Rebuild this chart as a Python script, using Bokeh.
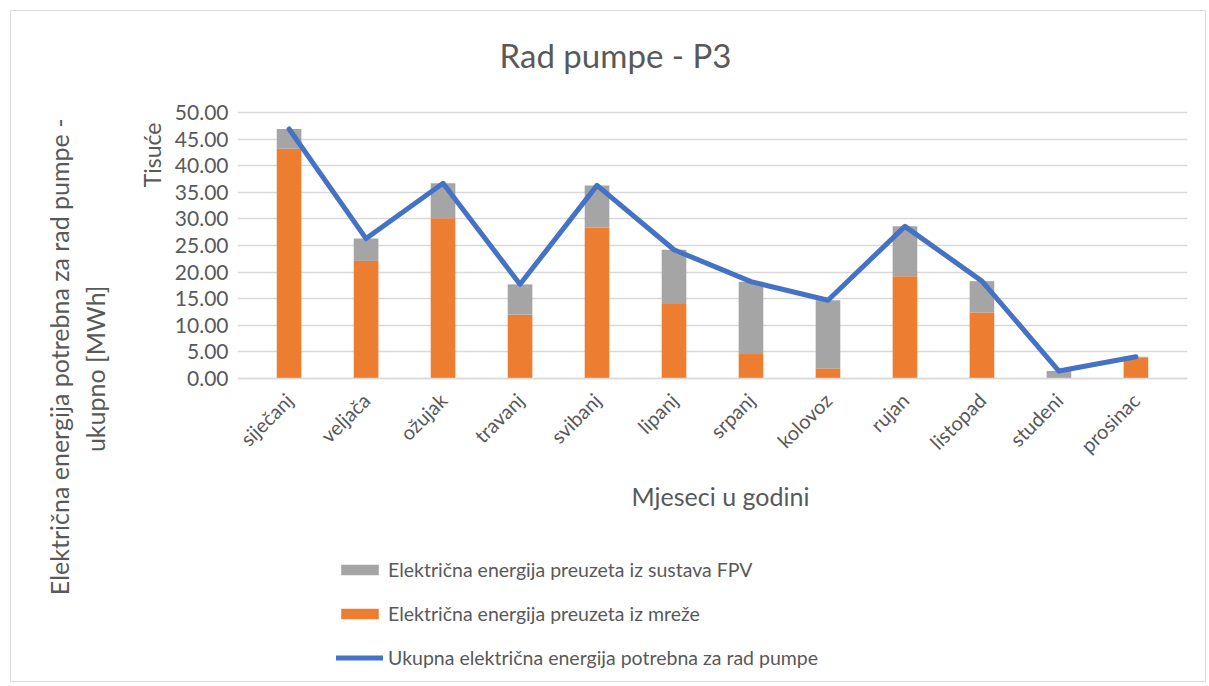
import math
from bokeh.plotting import figure
from bokeh.models import (FactorRange, Range1d, FixedTicker, NumeralTickFormatter,
                          Label, Legend, LegendItem, Title)
from bokeh.embed import file_html
from bokeh.resources import INLINE

months = ["siječanj", "veljača", "ožujak", "travanj", "svibanj", "lipanj",
          "srpanj", "kolovoz", "rujan", "listopad", "studeni", "prosinac"]
grid_energy = [43.2, 22.1, 30.1, 12.0, 28.4, 14.0, 4.6, 1.9, 19.2, 12.4, 0.0, 3.9]
fpv_energy = [3.7, 4.2, 6.6, 5.7, 7.9, 10.2, 13.6, 12.8, 9.4, 5.9, 1.4, 0.2]
total_energy = [46.9, 26.3, 36.7, 17.7, 36.3, 24.2, 18.2, 14.7, 28.6, 18.3, 1.4, 4.1]
y_ticks = [0, 5, 10, 15, 20, 25, 30, 35, 40, 45, 50]

FONT = "Lato"
TXT = "#595959"
ORANGE = "#ED7D31"
GREY = "#A5A5A5"
BLUE = "#4472C4"

# layout (pixels)
W, H = 1196, 672
LEFT, RIGHT = 226, 20
PAD = 0.17                        # category padding on each side
Y0_PX, Y50_PX = 367, 101          # canvas rows of value 0 and 50
PPU = (Y0_PX - Y50_PX) / 50.0
y_end = Y0_PX / PPU
y_start = -(H - Y0_PX) / PPU

p = figure(x_range=FactorRange(*months, range_padding=PAD, range_padding_units="absolute"),
           y_range=Range1d(y_start, y_end),
           width=W, height=H, output_backend="svg", toolbar_location=None,
           title=None, min_border_left=LEFT, min_border_right=RIGHT,
           min_border_top=0, min_border_bottom=0)
p.styles = {"border": "1px solid #d9d9d9", "margin": "10px 0 0 10px"}
p.outline_line_color = None
p.background_fill_color = "white"
p.border_fill_color = "white"

src = dict(month=months, grid=grid_energy, fpv=fpv_energy, total=total_energy)
bars = p.vbar_stack(["grid", "fpv"], x="month", width=0.32, color=[ORANGE, GREY],
                    line_color=None, source=src)
ln = p.line(x="month", y="total", source=src, line_color=BLUE, line_width=5,
            line_join="round", line_cap="round")

# y axis
p.yaxis.ticker = FixedTicker(ticks=y_ticks)
p.yaxis.formatter = NumeralTickFormatter(format="0.00")
p.yaxis.axis_line_color = None
p.yaxis.major_tick_line_color = None
p.yaxis.minor_tick_line_color = None
p.yaxis.major_tick_out = 0
p.yaxis.major_tick_in = 0
p.yaxis.major_label_standoff = 9
p.yaxis.major_label_text_font = FONT
p.yaxis.major_label_text_font_size = "21px"
p.yaxis.major_label_text_color = TXT

# x axis fixed at y = 0
p.xaxis.fixed_location = 0
p.xaxis.axis_line_color = "#d9d9d9"
p.xaxis.axis_line_width = 1.5
p.xaxis.major_tick_line_color = None
p.xaxis.minor_tick_line_color = None
p.xaxis.major_tick_out = 0
p.xaxis.major_tick_in = 0
p.xaxis.major_label_orientation = math.pi / 4
p.xaxis.major_label_standoff = 18
p.xaxis.major_label_text_font = FONT
p.xaxis.major_label_text_font_size = "20px"
p.xaxis.major_label_text_color = TXT

p.xgrid.grid_line_color = None
p.ygrid.ticker = FixedTicker(ticks=y_ticks)
p.ygrid.grid_line_color = "#d9d9d9"
p.ygrid.grid_line_width = 1.5

# vertical texts on the left (stacked outward from the value axis)
def side_title(text, offset, standoff, size):
    p.add_layout(Title(text=text, align="right", offset=offset, vertical_align="middle",
                       standoff=standoff, text_font=FONT, text_font_size=size,
                       text_font_style="normal", text_color=TXT), "left")

side_title("Tisuće", 111, 9, "23px")
side_title(" ", 0, 6, "10px")  # spacer
side_title("ukupno [MWh]", 274, 4, "25px")
side_title("Električna energija potrebna za rad pumpe -", 107, 4, "25px")

# texts inside the (tall) frame
FL = LEFT + 11  # frame left on the page
def lab(text, x, y, size):
    p.add_layout(Label(x=x - FL, y=H - (y - 11), x_units="screen", y_units="screen",
                       text=text, text_font=FONT, text_font_size=size, text_color=TXT,
                       text_align="center", text_baseline="alphabetic"))

lab("Rad pumpe - P3", 615, 54, "33px")
lab("Mjeseci u godini", 720, 495, "25px")

legend = Legend(items=[
    LegendItem(label="Električna energija preuzeta iz sustava FPV", renderers=[bars[1]]),
    LegendItem(label="Električna energija preuzeta iz mreže", renderers=[bars[0]]),
    LegendItem(label="Ukupna električna energija potrebna za rad pumpe", renderers=[ln]),
], location=(336 - FL, 14), orientation="vertical", padding=0, margin=0, spacing=21,
    glyph_width=47, glyph_height=13, label_height=20, label_standoff=5,
    label_text_font=FONT, label_text_font_size="19.5px", label_text_color=TXT,
    border_line_color=None, background_fill_alpha=0)
p.add_layout(legend, "center")

open("out.html", "w").write(file_html(p, INLINE))
